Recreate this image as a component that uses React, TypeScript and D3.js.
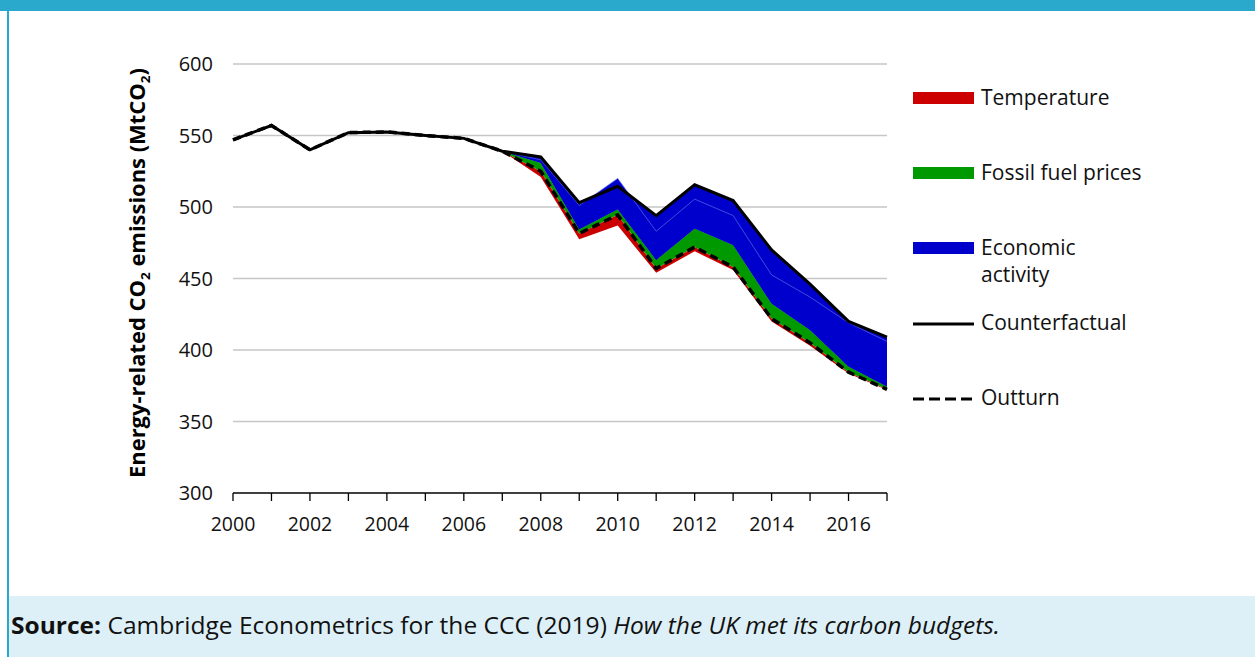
import React from "react";
import * as d3 from "d3";

const years = [2000, 2001, 2002, 2003, 2004, 2005, 2006, 2007, 2008, 2009, 2010, 2011, 2012, 2013, 2014, 2015, 2016, 2017];
const counterfactual = [547, 557, 540, 552, 552.5, 550, 548, 539, 535, 503, 514.5, 494, 515.5, 504.5, 470, 446, 420, 409];
const outturn = [547, 557, 540, 552, 552.5, 550, 548, 539, 525, 481.5, 494.5, 457, 472, 458, 422, 405, 384.5, 372.5];

// decomposition years and effects (MtCO2)
const effectYears = [2007, 2008, 2009, 2010, 2011, 2012, 2013, 2014, 2015, 2016, 2017];
const temperatureEffect = [0, 4, 4, 7.5, 3, 3, 2, 2, 2, 1, 0.5];
const fossilEffect = [0, 6, 3, 4, 6, 13, 15.5, 10.5, 9, 4, 2];
const economicEffect = [0, 2, 16.5, 21.5, 20, 20.5, 20.5, 20, 23, 30.5, 31.5];

const yTicks = [300, 350, 400, 450, 500, 550, 600];
const xLabelYears = [2000, 2002, 2004, 2006, 2008, 2010, 2012, 2014, 2016];

const FONT = "'Open Sans', 'Noto Sans', sans-serif";
const RED = "#cc0000";
const GREEN = "#009900";
const BLUE = "#0000cc";

export default function App() {
  const W = 1255, H = 657;
  const x = d3.scaleLinear().domain([2000, 2017]).range([233, 887]);
  const y = d3.scaleLinear().domain([300, 600]).range([493, 64]);

  const stack = effectYears.map((yr, i) => {
    const o = outturn[years.indexOf(yr)];
    const cf = counterfactual[years.indexOf(yr)];
    const redLow = o - temperatureEffect[i];
    const greenTop = o + fossilEffect[i];
    const blueTop = greenTop + economicEffect[i];
    return { yr, o, cf, redLow, greenTop, blueTop };
  });

  const area = (lo: (d: any) => number, hi: (d: any) => number) =>
    d3.area<any>().x((d) => x(d.yr)).y0((d) => y(lo(d))).y1((d) => y(hi(d)))(stack) || "";
  const line = d3.line<number>().x((_, i) => x(years[i])).y((d) => y(d));
  const stackTopLine = d3.line<any>().x((d) => x(d.yr)).y((d) => y(d.blueTop))(stack) || "";

  const legendItems = [
    { label: ["Temperature"], y: 98, kind: "swatch", color: RED },
    { label: ["Fossil fuel prices"], y: 173, kind: "swatch", color: GREEN },
    { label: ["Economic", "activity"], y: 248, kind: "swatch", color: BLUE },
    { label: ["Counterfactual"], y: 323, kind: "line" },
    { label: ["Outturn"], y: 398, kind: "dash" },
  ];

  return (
    <svg width={W} height={H} style={{ position: "absolute", left: 0, top: 0, background: "#fff" }} fontFamily={FONT}>
      {/* frame */}
      <rect x={0} y={0} width={W} height={11} fill="#2aa9cd" />
      <rect x={9} y={596} width={W - 9} height={H - 596} fill="#ddf0f7" />
      <rect x={7} y={0} width={2} height={H} fill="#2aa9cd" />

      {/* gridlines */}
      {yTicks.filter((t) => t > 300).map((t) => (
        <line key={t} x1={233} x2={887} y1={y(t)} y2={y(t)} stroke="#c6c6c6" strokeWidth={1.5} />
      ))}
      {/* y labels */}
      {yTicks.map((t) => (
        <text key={t} x={213} y={y(t)} dy="0.35em" textAnchor="end" fontSize={20} fill="#111">{t}</text>
      ))}

      {/* areas */}
      <path d={area((d) => d.redLow, (d) => d.o)} fill={RED} />
      <path d={area((d) => d.o, (d) => d.greenTop)} fill={GREEN} />
      <path d={area((d) => d.greenTop, (d) => d.cf)} fill={BLUE} />
      <path d={area((d) => d.greenTop, (d) => d.blueTop)} fill={BLUE} />
      <path d={stackTopLine} fill="none" stroke="#5a6ae6" strokeWidth={0.7} />

      {/* x axis */}
      <line x1={233} x2={887} y1={493} y2={493} stroke="#000" strokeWidth={1.3} />
      {years.map((yr) => (
        <line key={yr} x1={x(yr)} x2={x(yr)} y1={493} y2={501} stroke="#000" strokeWidth={1.3} />
      ))}
      {xLabelYears.map((yr) => (
        <text key={yr} x={x(yr)} y={524} dy="0.35em" textAnchor="middle" fontSize={19.5} fill="#111">{yr}</text>
      ))}

      {/* lines */}
      <path d={line(outturn) || ""} fill="none" stroke="#000" strokeWidth={3.5} strokeDasharray="8,5" />
      <path d={line(counterfactual) || ""} fill="none" stroke="#000" strokeWidth={3} strokeLinejoin="miter" />

      {/* y title */}
      <text transform={`translate(145,273) rotate(-90)`} textAnchor="middle" fontSize={21} fontWeight="bold" fill="#000" textLength={410} lengthAdjust="spacingAndGlyphs">
        Energy-related CO<tspan fontSize={13} dy={5}>2</tspan><tspan dy={-5}> emissions (MtCO</tspan><tspan fontSize={13} dy={5}>2</tspan><tspan dy={-5}>)</tspan>
      </text>

      {/* legend */}
      {legendItems.map((it) => (
        <g key={it.label[0]}>
          {it.kind === "swatch" && <rect x={913} y={it.y - 6} width={61} height={12} fill={it.color} />}
          {it.kind === "line" && <line x1={913} x2={974} y1={it.y + 1} y2={it.y + 1} stroke="#000" strokeWidth={3} />}
          {it.kind === "dash" && <line x1={913} x2={974} y1={it.y + 1} y2={it.y + 1} stroke="#000" strokeWidth={3} strokeDasharray="11,5" />}
          {it.label.map((l, j) => (
            <text key={l} x={981} y={it.y + j * 27} dy="0.35em" fontSize={21} fill="#111">{l}</text>
          ))}
        </g>
      ))}

      {/* source */}
      <text x={11} y={634} fontSize={23} fill="#111" textLength={989} lengthAdjust="spacingAndGlyphs">
        <tspan fontWeight="bold">Source:</tspan> Cambridge Econometrics for the CCC (2019) <tspan fontStyle="italic">How the UK met its carbon budgets.</tspan>
      </text>
    </svg>
  );
}
